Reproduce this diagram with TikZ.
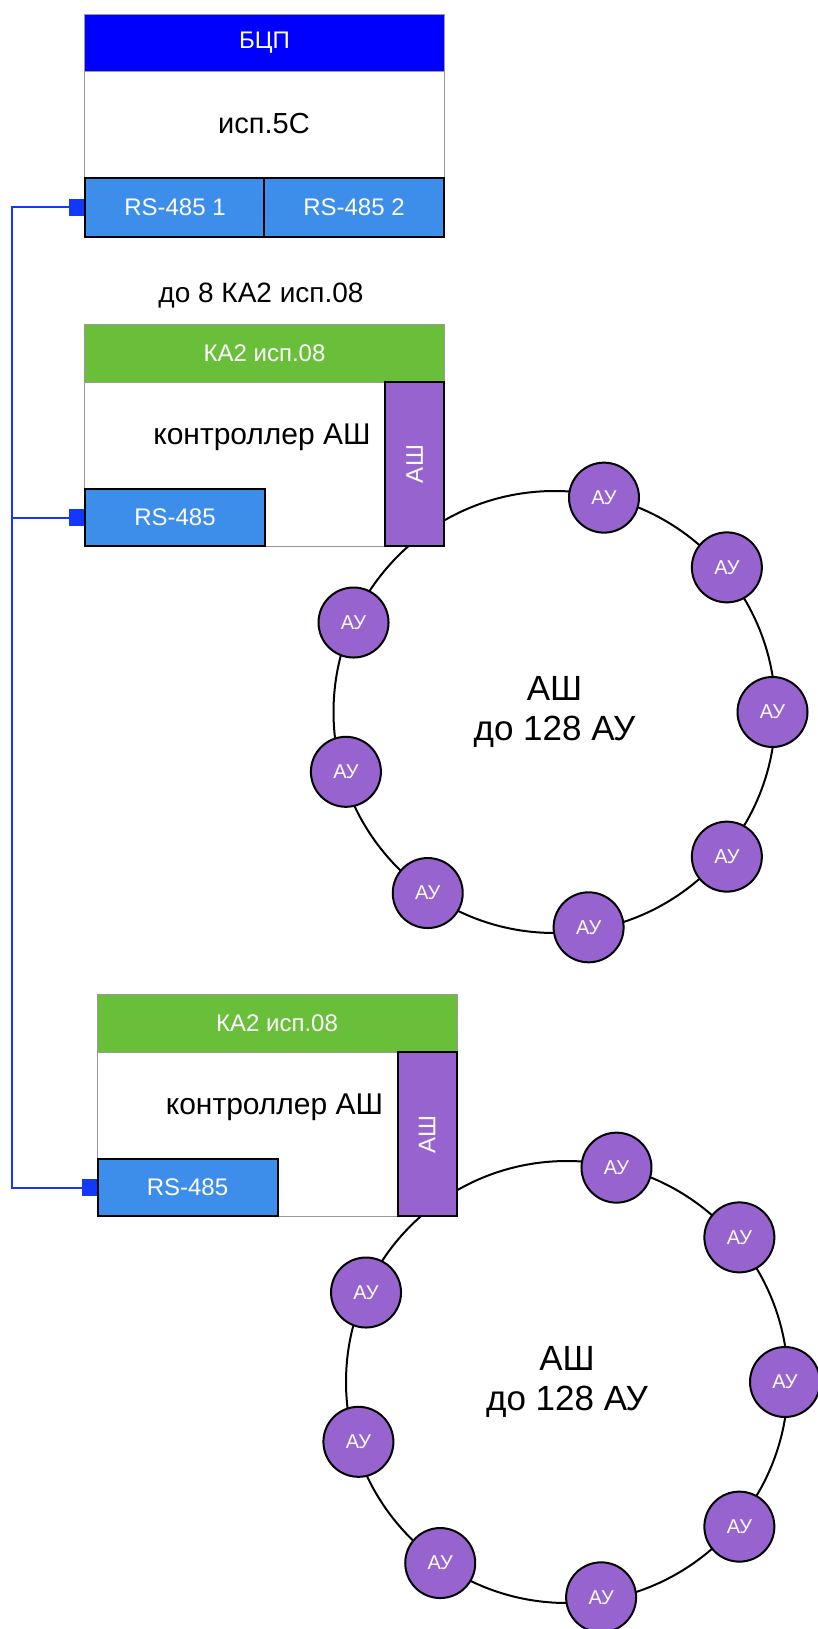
\documentclass[tikz,border=0pt]{standalone}
\usepackage{fontspec}
\setmainfont{Liberation Sans}
\usepackage{graphicx}
\usetikzlibrary{arrows.meta}
\definecolor{ashBlue}{HTML}{0000FF}
\definecolor{ashGreen}{HTML}{6ABF3A}
\definecolor{ashPort}{HTML}{3C8EEA}
\definecolor{ashViolet}{HTML}{9763CF}
\definecolor{ashLine}{HTML}{1238FF}
\definecolor{ashGray}{HTML}{999999}
\tikzset{
  ash frame/.style={draw=ashGray, fill=white, line width=1pt, anchor=north west, minimum width=360, inner sep=0pt},
  ash head/.style={draw=ashGray, line width=1pt, anchor=north west, minimum width=360, inner sep=0pt, text=white, font=\fontsize{24}{28}\selectfont},
  ash port/.style={draw=black, fill=ashPort, line width=2pt, minimum width=180, minimum height=58, inner sep=0pt, text=white, font=\fontsize{24}{28}\selectfont},
  ash bus/.style={draw=black, fill=ashViolet, line width=2pt, minimum width=59, minimum height=164, inner sep=0pt, text=white, font=\fontsize{24}{28}\selectfont},
  ash ring/.style={circle, draw=black, line width=2pt, minimum size=442, inner sep=0pt, align=center, font=\fontsize{35}{40}\selectfont},
  ash device/.style={circle, draw=black, fill=ashViolet, line width=2pt, minimum size=70, inner sep=0pt, text=white, font=\fontsize{20}{24}\selectfont},
  ash text/.style={font=\fontsize{30}{36}\selectfont},
  ash link/.style={draw=ashLine, line width=2pt},
  ash tip/.tip={Square[length=15pt, width=17pt]},
}
\begin{document}
\begin{tikzpicture}[x=1pt, y=-1pt]
  \useasboundingbox (0,0) rectangle (817,1629);
  % BCP block with two ports
  \node[ash frame, minimum height=223] (bcp) at (84,14) {};
  \node[ash head, fill=ashBlue, minimum height=57] (bcp head) at (84,14) {БЦП};
  \node[ash text, font=\fontsize{29}{34}\selectfont] (bcp name) at (264,124) {исп.5С};
  \node[ash port, minimum height=59, anchor=south west] (bcp port1) at (bcp.south west) {RS-485 1};
  \node[ash port, minimum height=59, anchor=south east] (bcp port2) at (bcp.south east) {RS-485 2};
  \node[ash text, font=\fontsize{28}{32}\selectfont] (ka count) at (261,296) {до 8 КА2 исп.08};
  % KA2 controllers, each with its loop of devices
  \foreach \g/\dx/\dy in {a/0/0, b/12.5/670} {
    \begin{scope}[shift={(\dx,\dy)}]
      \node[ash ring] (ring\g) at (554.5,712) {АШ\\до 128 АУ};
      \node[ash frame, minimum height=222] (ka\g) at (84,324) {};
      \node[ash head, fill=ashGreen, minimum height=58] (ka\g head) at (84,324) {КА2 исп.08};
      \node[ash port, minimum height=57, anchor=south west] (port\g) at (ka\g.south west) {RS-485};
      \node[ash bus, anchor=south east] (loop\g) at (ka\g.south east) {\rotatebox{90}{АШ}};
      \node[ash text] (ka\g name) at (262,437) {контроллер АШ};
      \foreach \a/\r [count=\k] in {-77/220, -40/225, 0/218, 40/225, 81/218, 125/221, 164/217, -156/220}
        \node[ash device] (au\g\k) at ([shift={(\a:\r)}]ring\g.center) {АУ};
    \end{scope}
  }
  % RS-485 line
  \coordinate (bus) at (12,0);
  \draw[ash link, ash tip-ash tip] (bcp port1.west) -- (bus |- bcp port1.west) -- (bus |- portb.west) -- (portb.west);
  \draw[ash link, -ash tip] (bus |- porta.west) -- (porta.west);
\end{tikzpicture}
\end{document}
